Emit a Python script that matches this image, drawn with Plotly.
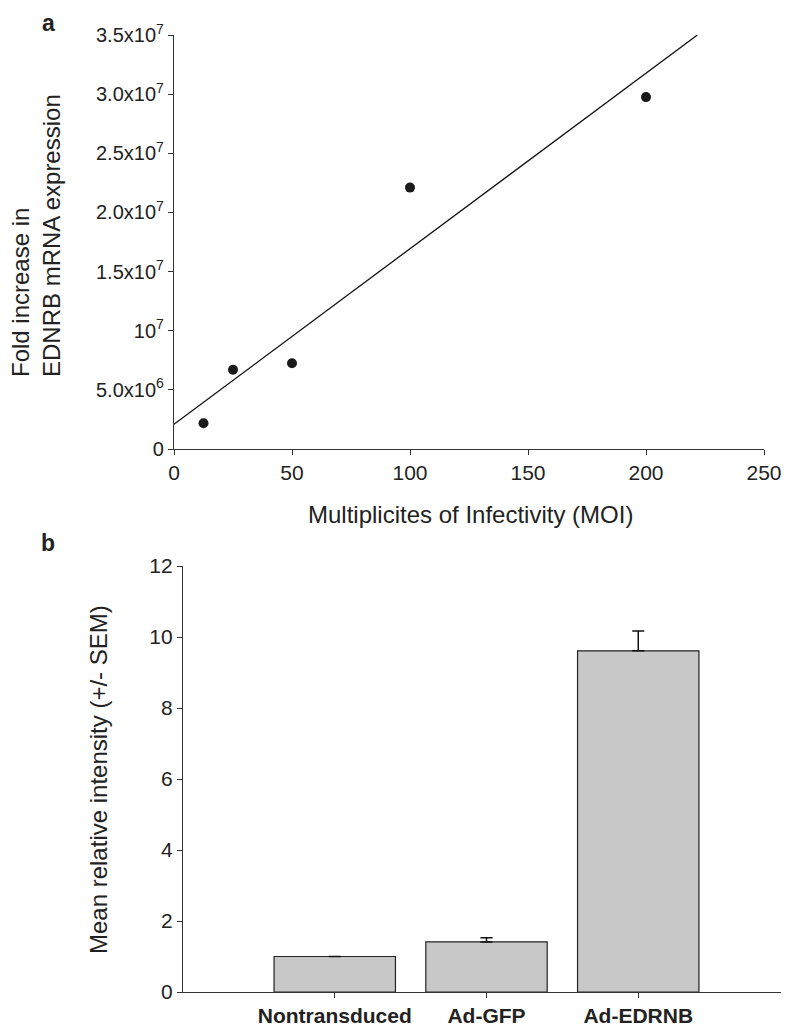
import numpy as np
import plotly.graph_objects as go

# panel a: fold increase vs MOI
moi = [12.5, 25, 50, 100, 200]
fold_increase = [2.17e6, 6.7e6, 7.25e6, 2.21e7, 2.975e7]
y_ticks_a = [0, 5e6, 1e7, 1.5e7, 2e7, 2.5e7, 3e7, 3.5e7]
y_ticktext_a = ["0", "5.0x10<sup>6</sup>", "10<sup>7</sup>", "1.5x10<sup>7</sup>",
                "2.0x10<sup>7</sup>", "2.5x10<sup>7</sup>", "3.0x10<sup>7</sup>",
                "3.5x10<sup>7</sup>"]
x_ticks_a = [0, 50, 100, 150, 200, 250]

# panel b: mean relative intensity
groups = ["Nontransduced", "Ad-GFP", "Ad-EDRNB"]
intensity = [1.0, 1.41, 9.61]
sem = [0.0, 0.12, 0.56]

FONT = "Liberation Sans, Arial, sans-serif"
NARROW = "Liberation Sans Narrow, Arial Narrow, Liberation Sans, sans-serif"
INK = "#222222"

# linear regression line drawn up to the top of the y axis
slope, intercept = np.polyfit(moi, fold_increase, 1)
x_end = (max(y_ticks_a) - intercept) / slope
fit_x = [0, x_end]
fit_y = [intercept + slope * v for v in fit_x]

fig = go.Figure()
fig.add_trace(go.Scatter(x=fit_x, y=fit_y, mode="lines",
                         line=dict(color="#111111", width=1.3),
                         xaxis="x", yaxis="y", hoverinfo="skip"))
fig.add_trace(go.Scatter(x=moi, y=fold_increase, mode="markers",
                         marker=dict(color="#1a1a1a", size=10),
                         xaxis="x", yaxis="y"))
fig.add_trace(go.Bar(x=list(range(len(groups))), y=intensity, width=0.8,
                     marker=dict(color="#c8c8c8", line=dict(color="#222222", width=1.2)),
                     error_y=dict(type="data", symmetric=False, array=sem,
                                  arrayminus=[0] * len(sem), color="#111111",
                                  thickness=1.5, width=6),
                     xaxis="x2", yaxis="y2"))

axis_common = dict(showgrid=False, zeroline=False, showline=True, linecolor="#333333",
                   linewidth=1.3, ticks="outside", ticklen=5, tickcolor="#333333",
                   tickwidth=1.2, automargin=False)


def label(text, x, y, size, angle=0, align="center"):
    return dict(text=text, x=x / 789, y=1 - y / 1027, xref="paper", yref="paper",
                xanchor="center", yanchor="middle", showarrow=False, textangle=angle,
                align=align, font=dict(size=size))


fig.update_layout(
    width=789, height=1027, autosize=False,
    margin=dict(l=0, r=0, t=0, b=0),
    paper_bgcolor="white", plot_bgcolor="white",
    showlegend=False,
    font=dict(family=FONT, color=INK, size=20),
    xaxis=dict(domain=[166 / 789, 756 / 789], anchor="y", range=[0, 250],
               tickvals=x_ticks_a, tickfont=dict(size=21), **axis_common),
    yaxis=dict(domain=[1 - 441 / 1027, 1 - 27 / 1027], anchor="x", range=[0, 3.5e7],
               tickvals=y_ticks_a, ticktext=y_ticktext_a, tickfont=dict(size=20),
               **axis_common),
    xaxis2=dict(domain=[175 / 789, 782 / 789], anchor="y2", range=[-1, 3],
                tickvals=list(range(len(groups))), ticktext=[f"<b>{g}</b>" for g in groups],
                tickfont=dict(family=NARROW, size=21), **axis_common),
    yaxis2=dict(domain=[1 - 984 / 1027, 1 - 558 / 1027], anchor="x2", range=[0, 12],
                tickvals=[0, 2, 4, 6, 8, 10, 12], tickfont=dict(family=NARROW, size=21),
                **axis_common),
    annotations=[
        label("<b>a</b>", 40, 15, 23),
        label("<b>b</b>", 40, 535, 23),
        label("Fold increase in<br>EDNRB mRNA expression", 28, 228, 24, -90, "left"),
        label("Multiplicites of Infectivity (MOI)", 462, 507, 24),
        label("Mean relative intensity (+/- SEM)", 90, 772, 24, -90),
    ],
)

fig.write_html("out.html")
